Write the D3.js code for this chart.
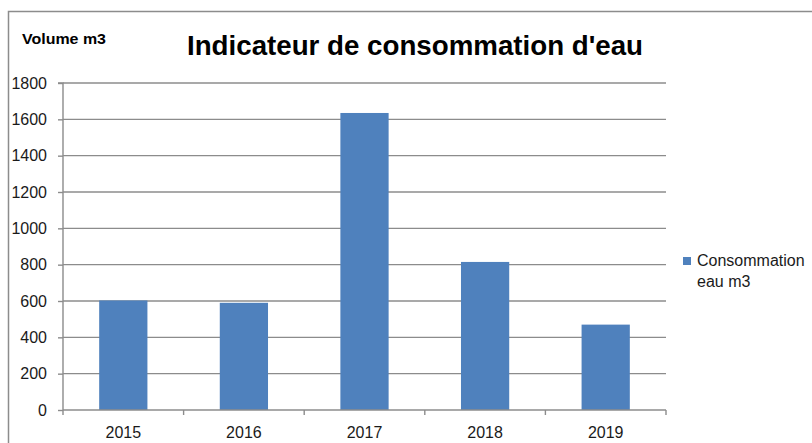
<!DOCTYPE html>
<html><head><meta charset="utf-8">
<script src="https://cdn.jsdelivr.net/npm/d3@7"></script>
<style>html,body{margin:0;padding:0;background:#fff;}svg{display:block;}</style>
</head><body>
<script>
const categories = ["2015","2016","2017","2018","2019"];
const values = [603, 590, 1635, 815, 470];
const yTicks = [0,200,400,600,800,1000,1200,1400,1600,1800];
const seriesName = ["Consommation", "eau m3"];
const titleText = "Indicateur de consommation d'eau";
const yTitle = "Volume m3";

(function(){
const W = 812, H = 443;
const svg = d3.select("body").append("svg").attr("width", W).attr("height", H);
const font = "'Liberation Sans', Arial, sans-serif";

// outer frame
svg.append("path").attr("d", `M8.5,${H} V11.5 H${W}`).attr("fill","none").attr("stroke","#8c8c8c").attr("stroke-width",1.5);

const pL = 63, pR = 666, pT = 83, pB = 410;
const x = d3.scaleBand().domain(categories).range([pL, pR]).paddingInner(0.6).paddingOuter(0.3);
const y = d3.scaleLinear().domain([0, 1800]).range([pB, pT]);

// gridlines
svg.append("g").selectAll("line").data(yTicks.filter(d => d > 0)).join("line")
  .attr("x1", pL).attr("x2", pR)
  .attr("y1", d => y(d)).attr("y2", d => y(d))
  .attr("stroke", "#8c8c8c").attr("stroke-width", 1.4);

// bars
svg.append("g").selectAll("rect").data(values).join("rect")
  .attr("x", (d,i) => x(categories[i]))
  .attr("width", x.bandwidth())
  .attr("y", d => y(d))
  .attr("height", d => pB - y(d))
  .attr("fill", "#4f81bd");

// y axis
const yAxis = d3.axisLeft(y).tickValues(yTicks).tickSize(5).tickPadding(11).tickFormat(d3.format("d"));
const gy = svg.append("g").attr("transform", `translate(${pL},0)`).call(yAxis);
gy.select(".domain").attr("stroke", "#8c8c8c").attr("stroke-width", 1.4).attr("d", `M-5,${pT}H0V${pB}`);
gy.selectAll(".tick line").attr("stroke", "#8c8c8c").attr("stroke-width", 1.4);
gy.selectAll("text").attr("font-family", font).attr("font-size", 16).attr("fill", "#1a1a1a");

// x axis with boundary ticks
const xAxis = d3.axisBottom(x).tickSize(0).tickPadding(17);
const gx = svg.append("g").attr("transform", `translate(0,${pB})`).call(xAxis);
gx.select(".domain").attr("stroke", "#8c8c8c").attr("stroke-width", 1.4).attr("d", `M${pL},0H${pR}`);
gx.selectAll("text").attr("font-family", font).attr("font-size", 16).attr("fill", "#1a1a1a");
const bounds = d3.range(categories.length + 1).map(i => pL + i * (pR - pL) / categories.length);
gx.append("g").selectAll("line").data(bounds).join("line")
  .attr("x1", d => d).attr("x2", d => d).attr("y1", 0).attr("y2", 5)
  .attr("stroke", "#8c8c8c").attr("stroke-width", 1.4);

// title
const t = svg.append("text").attr("x", 187).attr("y", 55)
  .attr("font-family", font).attr("font-weight", "bold").attr("font-size", 28)
  .attr("fill", "#000").text(titleText);
const tw = t.node().getComputedTextLength();
if (Math.abs(tw - 456) > 4) t.attr("textLength", 456).attr("lengthAdjust", "spacingAndGlyphs");

// y title
const yt = svg.append("text").attr("x", 22).attr("y", 44)
  .attr("font-family", font).attr("font-weight", "bold").attr("font-size", 15)
  .attr("fill", "#000").text(yTitle);
const ytw = yt.node().getComputedTextLength();
if (Math.abs(ytw - 84) > 3) yt.attr("textLength", 84).attr("lengthAdjust", "spacingAndGlyphs");

// legend
svg.append("rect").attr("x", 683).attr("y", 257).attr("width", 8).attr("height", 8).attr("fill", "#4f81bd");
const lg = svg.append("text").attr("font-family", font).attr("font-size", 16).attr("fill", "#1a1a1a");
lg.selectAll("tspan").data(seriesName).join("tspan")
  .attr("x", 697).attr("y", (d,i) => 266 + i * 21).text(d => d);
})();
</script>
</body></html>
